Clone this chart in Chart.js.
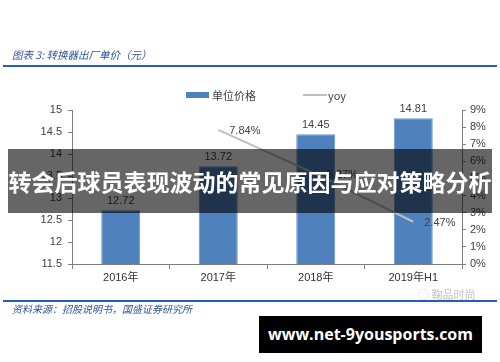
<!DOCTYPE html>
<html>
<head>
<meta charset="utf-8">
<script src="https://cdn.jsdelivr.net/npm/chart.js@4.4.0/dist/chart.umd.min.js"></script>
<style>
  html, body { margin: 0; padding: 0; background: #fff; }
  #wrap { position: relative; width: 500px; height: 362px; overflow: hidden;
    font-family: "Liberation Sans", "Noto Sans CJK SC", sans-serif; }
  #chart { position: absolute; left: 0; top: 0; }
  .abs { position: absolute; white-space: nowrap; }
  .cap { color: #2e5597; font-style: italic; font-size: 10.5px; font-family: "Noto Sans CJK SC", sans-serif; }
  .rule { position: absolute; left: 3px; width: 494px; height: 2px; background: #1f5fb5; }
  .leg { font-size: 11px; color: #404040; font-family: "Noto Sans CJK SC", sans-serif; }
</style>
</head>
<body>
<div id="wrap">
  <canvas id="chart" width="500" height="362"></canvas>

  <div class="abs cap" style="left:12px; top:47px;">图表 3: 转换器出厂单价（元）</div>
  <div class="rule" style="top:65px;"></div>

  <div class="abs" style="left:186px; top:92px; width:23px; height:6px; background:#4f81bd;"></div>
  <div class="abs leg" style="left:212px; top:87px;">单位价格</div>
  <div class="abs" style="left:303px; top:94px; width:24px; height:2px; background:#bfbfbf;"></div>
  <div class="abs leg" style="left:328px; top:87px;">yoy</div>

  <div class="rule" style="top:300px;"></div>
  <div class="abs cap" style="left:12px; top:301px; font-size:10px;">资料来源：招股说明书，国盛证券研究所</div>
  <div class="abs" style="left:418px; top:286px; color:#c4c4c4; font-size:11px; font-family:'Noto Sans CJK SC',sans-serif;">◌ 鞠品时尚</div>

  <div class="abs" style="left:8px; top:149px; width:484px; height:64px; background:rgba(0,0,0,0.6);"></div>
  <div class="abs" style="left:8px; top:149px; width:484px; height:64px; line-height:64px; text-align:center; color:#fff; font-weight:bold; font-size:23px; font-family:'Noto Sans CJK SC',sans-serif;">转会后球员表现波动的常见原因与应对策略分析</div>

  <div class="abs" style="left:259px; top:316px; width:223px; height:37px; background:#000; color:#fff; font-weight:bold; font-size:16px; line-height:37px; text-align:center; font-family:'Open Sans',sans-serif;">www.net-9yousports.com</div>
</div>

<script>
const categories = ['2016年', '2017年', '2018年', '2019年H1'];
const unitPrice = [12.72, 13.72, 14.45, 14.81];
const yoy = [null, 0.0784, 0.0527, 0.0247];
const leftTicks = [11.5, 12, 12.5, 13, 13.5, 14, 14.5, 15];

const labelPlugin = {
  id: 'valueLabels',
  afterDatasetsDraw(chart) {
    const ctx = chart.ctx;
    ctx.save();
    ctx.font = '11px "Liberation Sans", sans-serif';
    ctx.fillStyle = '#404040';
    chart.getDatasetMeta(0).data.forEach((bar, i) => {
      ctx.textAlign = 'center';
      ctx.textBaseline = 'bottom';
      ctx.fillText(unitPrice[i].toFixed(2), bar.x, bar.y - 4);
    });
    chart.getDatasetMeta(1).data.forEach((pt, i) => {
      if (yoy[i] == null) return;
      ctx.textAlign = 'left';
      ctx.textBaseline = 'middle';
      ctx.fillText((yoy[i] * 100).toFixed(2) + '%', pt.x + 11, pt.y + 1);
    });
    ctx.restore();
  }
};

const tickFont = { family: '"Liberation Sans", "Noto Sans CJK SC", sans-serif', size: 11 };

new Chart(document.getElementById('chart'), {
  type: 'bar',
  data: {
    labels: categories,
    datasets: [
      {
        label: '单位价格',
        data: unitPrice,
        backgroundColor: '#4f81bd',
        borderColor: '#6a95cc',
        borderWidth: 1,
        categoryPercentage: 1,
        barPercentage: 0.4,
        yAxisID: 'y',
        order: 2
      },
      {
        type: 'line',
        label: 'yoy',
        data: yoy,
        borderColor: '#bfbfbf',
        borderWidth: 2,
        pointRadius: 0,
        yAxisID: 'y1',
        order: 1
      }
    ]
  },
  options: {
    responsive: false,
    animation: false,
    layout: { padding: { left: 40, right: 8, top: 110, bottom: 68 } },
    plugins: { legend: { display: false }, tooltip: { enabled: false } },
    scales: {
      x: {
        grid: { display: true, drawOnChartArea: false, tickLength: 5, color: '#7f7f7f', offset: true },
        border: { color: '#7f7f7f' },
        ticks: { color: '#333', font: tickFont, padding: 2 },
        afterFit: s => { s.height = 30; }
      },
      y: {
        position: 'left',
        min: 11.5, max: 15,
        afterBuildTicks: s => { s.ticks = leftTicks.map(v => ({ value: v })); },
        grid: { drawOnChartArea: false, tickLength: 4, color: '#7f7f7f' },
        border: { color: '#7f7f7f' },
        ticks: { color: '#404040', font: tickFont, padding: 6, callback: v => String(v) },
        afterFit: s => { s.width = 32; }
      },
      y1: {
        position: 'right',
        min: 0, max: 0.09,
        ticks: { stepSize: 0.01, color: '#404040', font: tickFont, padding: 4,
          callback: v => Math.round(v * 100) + '%' },
        grid: { drawOnChartArea: false, tickLength: 4, color: '#7f7f7f' },
        border: { color: '#7f7f7f' },
        afterFit: s => { s.width = 30; }
      }
    }
  },
  plugins: [labelPlugin]
});
</script>
</body>
</html>
